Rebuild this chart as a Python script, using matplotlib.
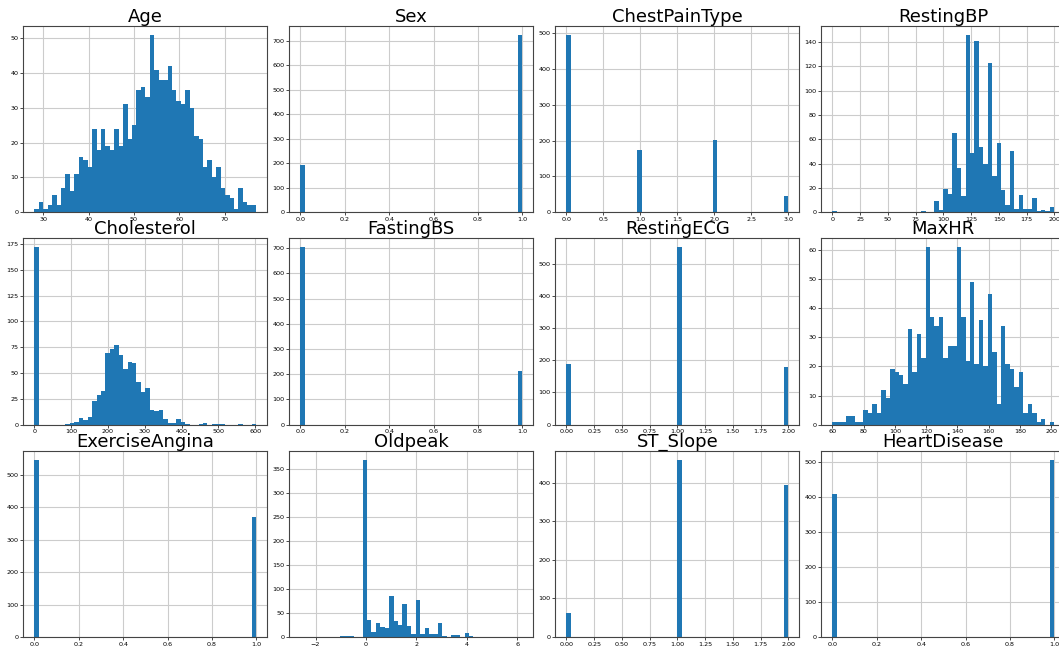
import numpy as np
import matplotlib
matplotlib.use("Agg")
import matplotlib.pyplot as plt

# binned counts (50 bins per column, like df.hist(bins=50))
age_range = (28, 77)
age_counts = [1, 3, 1, 2, 5, 2, 7, 11, 6, 11,
              16, 15, 13, 24, 18, 24, 19, 18, 24, 19,
              31, 21, 25, 35, 36, 33, 51, 41, 38, 38,
              42, 35, 32, 31, 35, 30, 22, 21, 13, 15,
              10, 13, 7, 5, 4, 1, 7, 3, 2, 2]

bp_range = (0, 200)
bp_counts = [1, 0, 0, 0, 0, 0, 0, 0, 0, 0,
             0, 0, 0, 0, 0, 0, 0, 0, 0, 0,
             1, 0, 0, 9, 2, 19, 15, 65, 36, 13,
             146, 49, 141, 54, 40, 123, 30, 57, 18, 6,
             50, 3, 14, 3, 3, 12, 1, 2, 1, 4]

chol_range = (0, 603)
chol_counts = [172, 0, 0, 0, 0, 0, 0, 1, 2, 3,
               6, 4, 7, 23, 29, 33, 69, 73, 77, 67,
               54, 61, 60, 41, 32, 35, 14, 13, 14, 5,
               2, 2, 5, 3, 1, 0, 0, 1, 2, 0,
               1, 1, 1, 0, 0, 0, 1, 0, 0, 1]

hr_range = (60, 202)
hr_counts = [1, 1, 1, 3, 3, 1, 1, 5, 4, 7,
             4, 12, 9, 19, 18, 17, 14, 33, 18, 31,
             23, 61, 37, 34, 37, 23, 27, 27, 61, 37,
             22, 49, 21, 36, 20, 45, 25, 7, 34, 21,
             19, 13, 18, 4, 7, 4, 1, 2, 0, 1]

oldpeak_range = (-2.6, 6.2)
oldpeak_counts = [1, 0, 0, 1, 0, 0, 1, 0, 1, 3,
                  2, 2, 0, 0, 370, 36, 11, 29, 21, 19,
                  86, 33, 25, 69, 23, 7, 78, 7, 19, 7,
                  7, 29, 2, 0, 4, 4, 0, 8, 2, 0,
                  0, 0, 0, 1, 0, 0, 1, 0, 0, 1]

# encoded categorical columns: value -> count
sex_vals, sex_counts = [0, 1], [193, 725]
cpt_vals, cpt_counts = [0, 1, 2, 3], [496, 173, 203, 46]
fbs_vals, fbs_counts = [0, 1], [704, 214]
ecg_vals, ecg_counts = [0, 1, 2], [188, 552, 178]
ang_vals, ang_counts = [0, 1], [547, 371]
slope_vals, slope_counts = [0, 1, 2], [63, 460, 395]
hd_vals, hd_counts = [0, 1], [410, 508]

binned = {
    "Age": (age_range, age_counts),
    "RestingBP": (bp_range, bp_counts),
    "Cholesterol": (chol_range, chol_counts),
    "MaxHR": (hr_range, hr_counts),
    "Oldpeak": (oldpeak_range, oldpeak_counts),
}
discrete = {
    "Sex": (sex_vals, sex_counts),
    "ChestPainType": (cpt_vals, cpt_counts),
    "FastingBS": (fbs_vals, fbs_counts),
    "RestingECG": (ecg_vals, ecg_counts),
    "ExerciseAngina": (ang_vals, ang_counts),
    "ST_Slope": (slope_vals, slope_counts),
    "HeartDisease": (hd_vals, hd_counts),
}
order = ["Age", "Sex", "ChestPainType", "RestingBP",
         "Cholesterol", "FastingBS", "RestingECG", "MaxHR",
         "ExerciseAngina", "Oldpeak", "ST_Slope", "HeartDisease"]

fig, axes = plt.subplots(3, 4, figsize=(10.59, 6.48), dpi=100)
fig.subplots_adjust(left=0.022, right=1.006, top=0.960, bottom=0.017,
                    wspace=0.09, hspace=0.14)

for ax, name in zip(axes.flat, order):
    if name in binned:
        (lo, hi), counts = binned[name]
        w = (hi - lo) / len(counts)
        centers = lo + (np.arange(len(counts)) + 0.5) * w
        ax.hist(centers, bins=len(counts), range=(lo, hi), weights=counts,
                color="#1f77b4")
    else:
        vals, counts = discrete[name]
        ax.hist(vals, bins=50, weights=counts, color="#1f77b4")
    ax.set_title(name, fontsize=13, pad=3)
    ax.grid(True, color="#cccccc", linewidth=0.8)
    ax.set_axisbelow(True)
    ax.tick_params(labelsize=4.6, length=2, width=0.5, pad=1.5)
    for s in ax.spines.values():
        s.set_linewidth(0.8)
        s.set_color("#444444")

fig.savefig("out.png", dpi=100)
